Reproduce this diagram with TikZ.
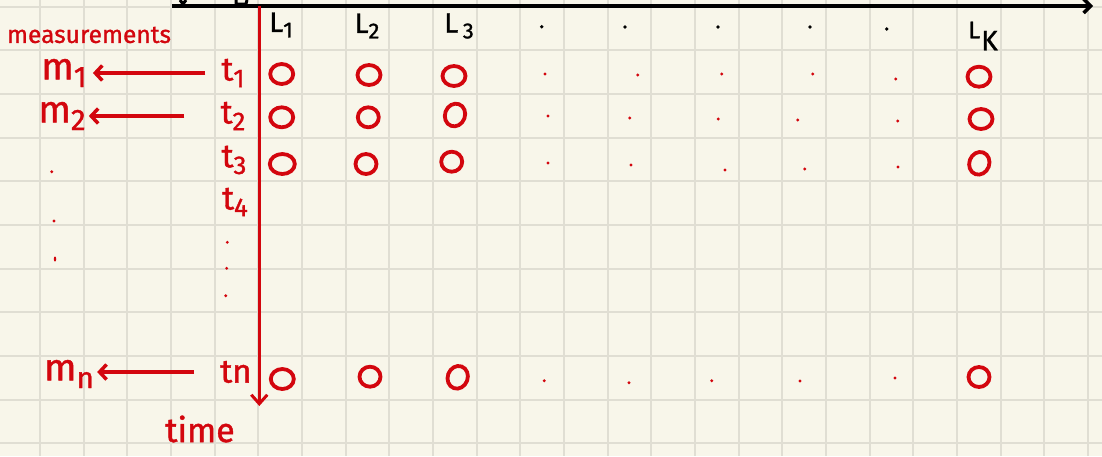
\documentclass[tikz,border=0pt]{standalone}
\usepackage{fontspec}
\usepackage{graphicx}
\setmainfont{Fira Sans}
\newfontfamily\hand{Fira Sans}[FakeBold=1.2]
\usetikzlibrary{arrows.meta,shapes.geometric}
\definecolor{paper}{HTML}{F8F6EA}
\definecolor{gridc}{HTML}{E0DED3}
\definecolor{ink}{HTML}{D3060E}
\newcommand\lowsub[1]{\raisebox{-0.2em}{\scalebox{0.78}{#1}}}
\begin{document}
\begin{tikzpicture}[x=1pt,y=-1pt,
  gridline/.style={gridc, line width=2pt},
  redlbl/.style={text=ink, inner sep=0pt, font=\hand\fontsize{38}{40}\selectfont},
  tlbl/.style={text=ink, inner sep=0pt, font=\hand\fontsize{33}{35}\selectfont},
  blbl/.style={text=black, inner sep=0pt, font=\hand\fontsize{28}{30}\selectfont},
  ring/.style={draw=ink, line width=3.8pt, ellipse, minimum width=23pt, minimum height=20pt, inner sep=0pt},
  rdot/.style={circle, fill=ink, inner sep=0pt, minimum size=3.2pt},
  bdot/.style={circle, fill=black, inner sep=0pt, minimum size=3.8pt},
  marrow/.style={ink, line width=3.5pt, -{Straight Barb[length=7pt,width=15pt]}},
]
\fill[paper] (0,0) rectangle (1102,456);
\useasboundingbox (0,0) rectangle (1102,456);
\foreach \k in {0,...,24} \draw[gridline] ({40+\k*43.67},0) -- ({40+\k*43.67},456);
\foreach \k in {0,...,10} \draw[gridline] (0,{6.7+\k*43.67}) -- (1102,{6.7+\k*43.67});

% partial strokes at top edge
\draw[black, line width=3pt] (180,0) -- (183,4) -- (186,0);
\draw[black, line width=3pt] (236,0) -- (236,4) -- (246,4) -- (247,0);

% black horizontal axis
\coordinate (xs) at (172,6);
\coordinate (xe) at (1093,6);
\draw[black, line width=3.4pt, -{Straight Barb[length=7pt,width=14pt]}] (xs) -- (xe);

% red time axis
\coordinate (ys) at (259.3,6);
\coordinate (ye) at (259.3,406);
\draw[ink, line width=3pt, -{Straight Barb[length=9pt,width=16pt]}] (ys) -- (ye);

% left labels
\node[redlbl, font=\hand\fontsize{24.5}{26}\selectfont] (meas) at (89,35) {measurements};
\node[redlbl] (m1) at (64,73) {m\lowsub{1}};
\node[redlbl] (m2) at (62,116) {m\lowsub{2}};
\node[redlbl] (mn) at (69,374) {m\lowsub{n}};
\node[rdot] (ld1) at (51.7,171.7) {};
\node[rdot] (ld2) at (54,221) {};
\node[rdot, minimum width=2.5pt, minimum height=5pt, ellipse] (ld3) at (55,259) {};

% time labels
\node[tlbl] (t1) at (233,73) {t\lowsub{1}};
\node[tlbl] (t2) at (233,116) {t\lowsub{2}};
\node[tlbl] (t3) at (234,160) {t\lowsub{3}};
\node[tlbl] (t4) at (235,202) {t\lowsub{4}};
\node[rdot] (td1) at (227.3,242.3) {};
\node[rdot] (td2) at (226.7,268.3) {};
\node[rdot] (td3) at (225.7,295.7) {};
\node[tlbl] (tn) at (236,372) {tn};
\node[tlbl, font=\hand\fontsize{34}{36}\selectfont] (time) at (200,429) {time};

% measurement arrows
\draw[marrow, shorten <=16pt, shorten >=6pt] (t1.west) -- (m1.east |- t1.west);
\draw[marrow, shorten <=36pt, shorten >=3pt] (t2.west) -- (m2.east |- t2.west);
\draw[marrow, shorten <=26pt, shorten >=3pt] (tn.west) -- (mn.east |- tn.west);

% header labels
\node[blbl] (L1) at (281,25) {L\lowsub{1}};
\node[blbl] (L2) at (367,26) {L\lowsub{2}};
\node[blbl] (L3) at (459,26) {L\,\lowsub{3}};
\node[bdot] (hd1) at (541.7,26.7) {};
\node[bdot] (hd2) at (625,27) {};
\node[bdot] (hd3) at (718,27) {};
\node[bdot] (hd4) at (810,27) {};
\node[bdot] (hd5) at (886.7,29) {};
\node[text=black, inner sep=0pt, font=\hand] (LK) at (983,36) {{\fontsize{24}{26}\selectfont L}\hspace{1pt}\raisebox{-12pt}{\fontsize{28}{30}\selectfont K}};

% rings
\node[ring] (c11) at (281.7,74) {};
\node[ring] (c12) at (369,75) {};
\node[ring] (c13) at (454,76) {};
\node[ring] (c1k) at (979,76.7) {};
\node[ring] (c21) at (281.7,117.3) {};
\node[ring, minimum width=21pt] (c22) at (368.3,117.3) {};
\node[ring, rotate=70] (c23) at (455,115) {};
\node[ring] (c2k) at (981,119) {};
\node[ring, minimum width=25pt] (c31) at (282.3,164) {};
\node[ring, minimum width=21pt] (c32) at (366,164) {};
\node[ring, minimum width=21pt] (c33) at (451.7,161.7) {};
\node[ring, rotate=70] (c3k) at (979.3,163.3) {};
\node[ring] (cn1) at (282.3,379) {};
\node[ring, minimum width=21pt] (cn2) at (370,376.7) {};
\node[ring, rotate=70] (cn3) at (457.7,377.3) {};
\node[ring, minimum width=21pt] (cnk) at (979,377) {};

% row dots
\node[rdot] (d11) at (545,74) {};
\node[rdot] (d12) at (637.7,75) {};
\node[rdot] (d13) at (721.7,74) {};
\node[rdot] (d14) at (812.7,74) {};
\node[rdot] (d15) at (895.7,79) {};
\node[rdot] (d21) at (548,116) {};
\node[rdot] (d22) at (629.7,118) {};
\node[rdot] (d23) at (718.3,119) {};
\node[rdot] (d24) at (797.7,120) {};
\node[rdot] (d25) at (897.7,121) {};
\node[rdot] (d31) at (548,163) {};
\node[rdot] (d32) at (631,165) {};
\node[rdot] (d33) at (725,170) {};
\node[rdot] (d34) at (804.7,169) {};
\node[rdot] (d35) at (898,167) {};
\node[rdot] (dn1) at (544.3,380.7) {};
\node[rdot] (dn2) at (629,382.7) {};
\node[rdot] (dn3) at (711.7,380.7) {};
\node[rdot] (dn4) at (800,381) {};
\node[rdot] (dn5) at (895,378) {};
\end{tikzpicture}
\end{document}
